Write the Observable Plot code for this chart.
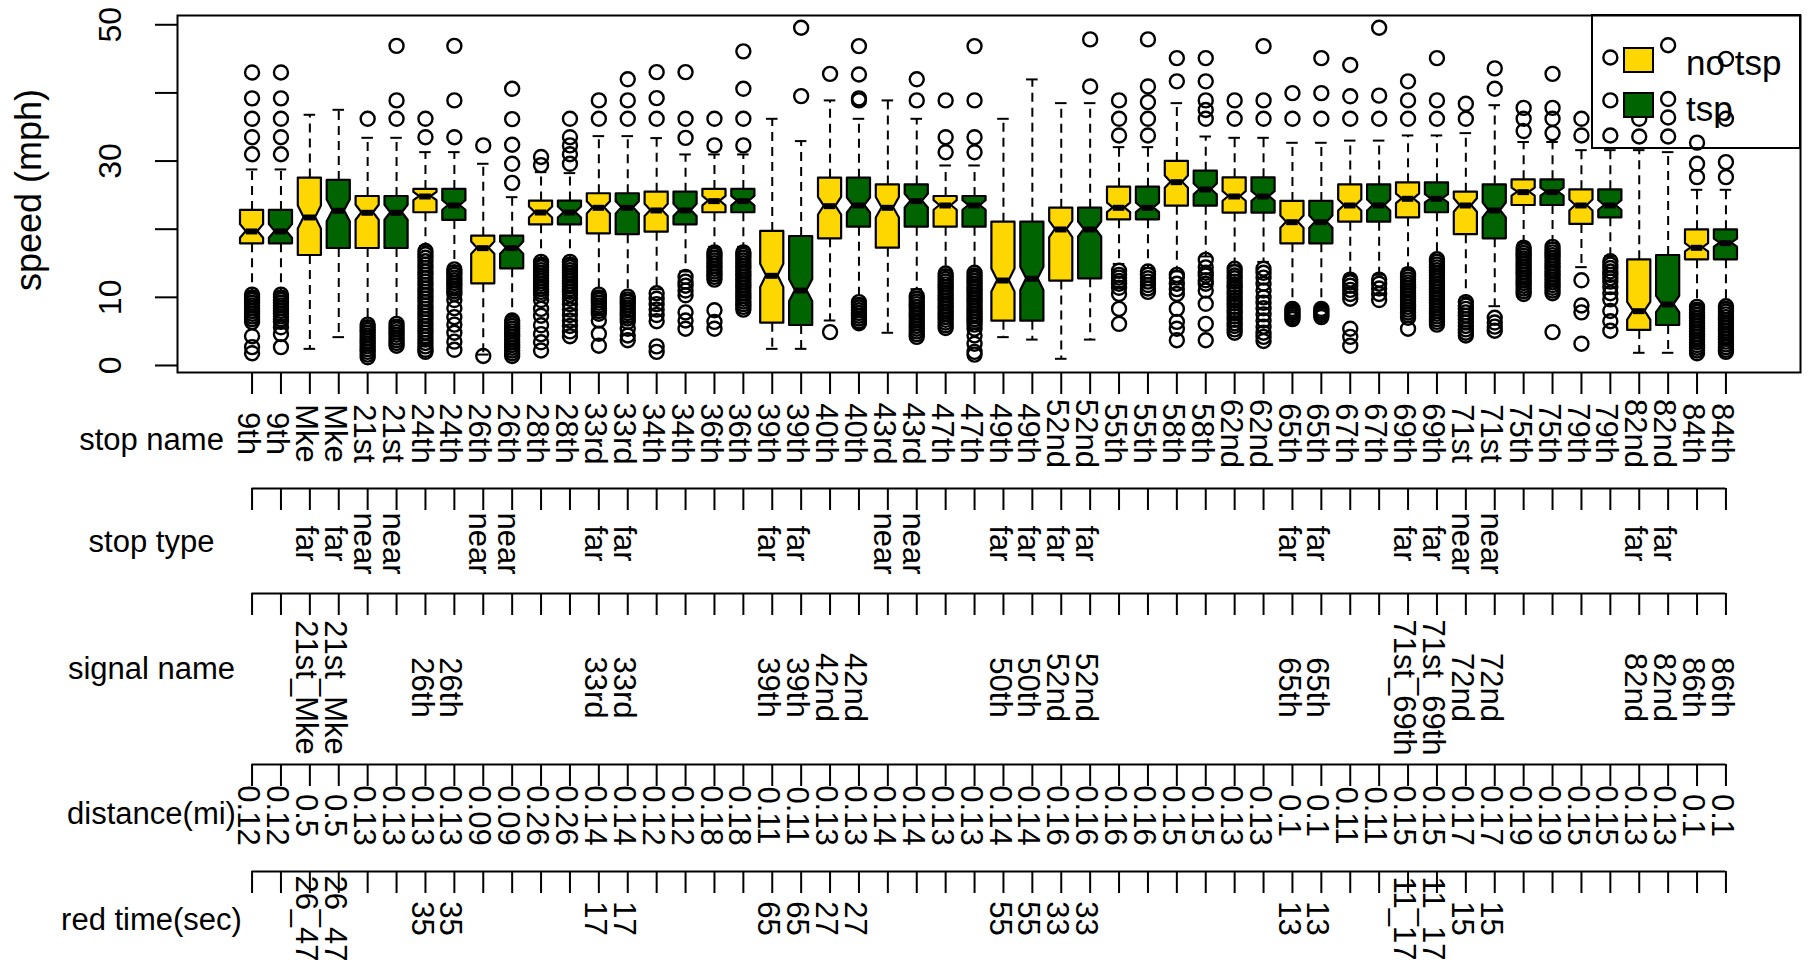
<!DOCTYPE html>
<html><head><meta charset="utf-8">
<script src="https://cdn.jsdelivr.net/npm/d3@7"></script>
<script src="https://cdn.jsdelivr.net/npm/@observablehq/plot@0.6"></script>
<style>
body{margin:0;background:#fff;}
#chart{position:relative;width:1809px;height:964px;overflow:hidden;background:#fff;font-family:"Liberation Sans",Arial,Helvetica,sans-serif;}
#chart svg{position:absolute;left:0;overflow:visible;}
</style></head><body><div id="chart"></div>
<script>
// ---------- data ----------
const stops = ["9th","Mke","21st","24th","26th","28th","33rd","34th","36th","39th","40th","43rd","47th","49th","52nd","55th","58th","62nd","65th","67th","69th","71st","75th","79th","82nd","84th"];
const groups = ["no tsp","tsp"];
const groupColors = ["#FFD700","#006400"];
const stopType = ["","far","near","","near","","far","","","far","","near","","far","far","","","","far","","far","near","","","far",""];
const signalName = ["","21st_Mke","","26th","","","33rd","","","39th","42nd","","","50th","52nd","","","","65th","","71st_69th","72nd","","","82nd","86th"];
const distance = ["0.12","0.5","0.13","0.13","0.09","0.26","0.14","0.12","0.18","0.11","0.13","0.14","0.13","0.14","0.16","0.16","0.15","0.13","0.1","0.11","0.15","0.17","0.19","0.15","0.13","0.1"];
const redTime = ["","26_47","","35","","","17","","","65","27","","","55","33","","","","13","","11_17","15","","","",""];
const rowTitles = ["stop name","stop type","signal name","distance(mi)","red time(sec)"];

const q1 = [17.86,17.86,16.14,17.17,17.17,17.17,22.41,21.28,11.99,14.19,20.64,20.64,19.32,19.2,19.57,20.64,22.41,22.41,6.21,5.87,18.59,20.3,17.22,20.3,20.3,20.3,6.5,6.5,12.38,12.72,21.38,21.38,23.38,23.38,22.36,22.36,17.86,17.86,21.03,21.03,21.67,22.41,19.2,18.59,23.48,23.48,20.7,21.67,5.14,5.87,15.5,15.5];
const median = [19.67,19.67,21.72,22.7,22.41,22.41,24.8,23.48,17.22,17.22,22.45,22.45,23.14,23.14,22.75,22.75,24.12,24.12,13.16,11.0,23.38,23.48,23.14,24.12,23.48,23.48,12.47,12.72,19.96,19.96,23.14,23.14,26.9,25.83,24.8,24.8,21.03,21.03,23.48,23.48,24.46,24.46,23.48,22.75,25.44,25.44,23.48,23.48,7.97,8.95,17.27,17.95];
const q3 = [22.75,22.75,27.5,27.15,24.8,24.8,25.83,25.83,18.98,18.98,24.12,24.12,25.2,25.2,25.44,25.44,25.83,25.83,19.67,18.93,27.49,27.49,26.5,26.5,24.8,24.8,21.03,21.03,23.09,23.09,26.17,26.17,29.94,28.52,27.54,27.54,24.07,24.07,26.5,26.5,26.81,26.81,25.44,26.5,27.25,27.25,25.78,25.78,15.5,16.14,19.91,19.91];
const whiskerLo = [10.8,10.8,2.44,4.16,6.5,6.5,17.5,14.6,1.6,7.2,15.6,15.6,10.8,10.4,11.2,13.8,17.4,17.4,2.44,2.44,6.6,9.8,4.8,11.2,14.0,14.0,4.16,3.8,0.98,3.8,14.9,14.3,13.8,16.0,14.7,15.2,8.7,8.7,13.3,13.3,14.2,16.2,10.0,8.7,18.0,18.0,14.43,16.0,1.86,1.86,9.0,9.2];
const whiskerHi = [28.77,28.77,36.79,37.52,33.41,33.41,31.31,31.31,29.6,24.7,28.37,28.23,33.66,33.66,33.37,30.97,30.97,30.97,36.2,32.93,38.9,36.2,38.9,36.2,29.35,29.35,36.2,41.98,38.5,38.5,32.04,32.04,38.5,33.6,33.41,33.41,32.68,32.68,33.0,33.0,33.76,33.76,34.1,38.2,32.8,32.8,31.6,31.6,31.6,31.31,25.78,25.78];
const notchHalf = [1.0,1.0,1.7,1.6,1.1,1.1,0.6,0.7,0.9,0.9,0.8,0.8,0.9,0.9,0.9,0.9,0.7,0.7,1.7,1.6,1.3,1.1,1.5,1.0,0.7,0.7,1.7,1.7,1.2,1.1,0.7,0.7,0.9,0.8,0.7,0.7,0.9,0.9,0.8,0.8,0.7,0.6,1.0,1.1,0.6,0.6,0.8,0.7,1.3,1.2,0.6,0.6];
const outliers = [
 [43.0,39.2,36.2,33.5,31.0,10.4,10.0,9.6,9.2,8.8,8.4,8.0,7.6,7.2,6.8,6.4,4.3,2.7,1.8],
 [43.0,39.2,36.2,33.5,31.0,10.4,10.0,9.6,9.2,8.8,8.4,8.0,7.6,7.2,6.8,6.4,5.6,4.6,2.7],
 [],
 [],
 [36.2,6.0,5.6,5.2,4.8,4.4,4.0,3.6,3.2,2.8,2.4,2.0,1.6,1.2],
 [46.9,38.9,36.2,6.1,5.7,5.3,4.9,4.5,4.1,3.7,3.3,2.9],
 [36.2,33.5,16.8,16.3,15.8,15.3,14.8,14.3,13.8,13.3,12.8,12.3,11.8,11.3,10.8,10.3,9.8,9.3,8.8,8.3,7.8,7.3,6.8,6.3,5.8,5.3,4.8,4.3,3.8,3.3,2.8,2.3,2.0],
 [46.9,38.9,33.5,14.1,13.7,13.3,12.9,12.5,12.1,11.7,11.3,10.9,10.5,9.6,8.4,7.1,6.0,4.8,3.5,2.3],
 [32.3,1.4],
 [40.6,36.15,32.4,29.6,26.8,6.6,6.2,5.8,5.4,5.0,4.6,4.2,3.8,3.4,3.0,2.6,2.2,1.8,1.4],
 [30.6,29.4,15.2,14.8,14.4,14.0,13.6,13.2,12.8,12.4,12.0,11.6,11.2,10.8,10.4,9.6,8.3,7.3,5.9,4.6,3.4,2.2],
 [36.2,33.5,32.3,31.0,29.6,15.2,14.8,14.4,14.0,13.6,13.2,12.8,12.4,12.0,11.6,11.2,10.8,10.4,9.8,9.0,8.2,7.4,6.6,5.8,5.0,4.3],
 [38.9,36.2,10.4,10.0,9.6,9.2,8.8,8.4,8.0,7.6,6.6,4.65,2.9],
 [42.0,38.9,36.2,10.1,9.7,9.3,8.9,8.5,8.1,7.7,7.3,6.9,6.4,5.4,4.4,3.7],
 [43.05,39.24,36.2,10.6,9.8,9.0,8.2,7.4,6.5,2.8,2.0],
 [43.05,36.2,33.4,13.0,12.3,11.7,11.0,10.3,7.8,6.6,5.4],
 [36.2,32.3,16.6,16.2,15.8,15.4,15.0,14.6,14.2,13.8,13.4,13.0,12.6,8.1,6.4,5.4],
 [46.1,40.6,36.2,32.3,16.6,16.2,15.8,15.4,15.0,14.6,14.2,13.8,13.4,13.0,12.6,12.2,11.8,11.4,11.0,10.6,10.2,9.8,9.4,9.0,8.6,8.2],
 [],
 [49.56,39.53],
 [42.8,4.9],
 [46.87,42.7,39.2,38.9,9.3,8.9,8.5,8.1,7.7,7.3,6.9,6.5,6.2],
 [],
 [42.0,38.9,10.2,9.8,9.4,9.0,8.6,8.2,7.8,7.4,7.0,6.6,6.2,5.8,5.4,5.0,4.6,4.2],
 [38.9,33.5,31.3,13.5,13.1,12.7,12.3,11.9,11.5,11.1,10.7,10.3,9.9,9.5,9.1,8.7,8.3,7.9,7.5,7.1,6.7,6.3,5.9,5.5],
 [46.87,38.9,33.5,31.3,13.6,13.2,12.8,12.4,12.0,11.6,11.2,10.8,10.4,10.0,9.6,9.2,8.8,8.4,8.0,7.6,7.2,6.8,6.4,6.0,5.4,4.4,3.2,2.0,1.6],
 [],
 [],
 [],
 [47.85,40.95],
 [38.9,36.2,33.76,13.9,13.3,12.9,12.4,12.0,11.4,10.5,8.3,6.1],
 [47.85,40.95,38.65,36.2,33.76,13.8,13.3,12.8,12.3,11.8,11.3,10.8],
 [45.1,41.7,13.3,12.9,12.0,11.2,10.5,8.3,6.4,5.4,3.7],
 [45.1,41.7,38.9,37.5,36.2,15.5,14.4,13.6,13.2,12.5,12.0,11.0,9.05,6.1,3.7],
 [38.9,36.2,14.2,13.7,13.2,12.8,12.3,11.8,11.4,10.9,10.5,10.0,9.5,9.1,8.6,8.1,7.7,7.2,6.7,6.2,5.8,5.3,4.8],
 [46.87,38.9,36.2,14.2,13.6,12.9,12.0,11.0,10.0,9.2,8.4,7.5,6.6,5.7,4.8,4.2,3.6],
 [39.97,36.2,8.3,8.0,7.7,7.4,7.1,6.8],
 [45.1,39.97,36.2,8.3,8.0,7.7,7.4,7.1],
 [44.1,39.5,36.2,12.6,12.2,11.7,11.1,10.5,9.8,5.4,4.2,2.9],
 [49.56,39.6,36.2,12.6,12.0,11.3,10.5,9.6],
 [41.7,38.9,36.2,13.4,13.0,12.6,12.2,11.8,11.4,11.0,10.6,10.2,9.8,9.4,9.0,8.6,8.2,7.8,7.4,7.0,5.4],
 [45.1,38.9,36.2,15.6,15.2,14.8,14.4,14.0,13.6,13.2,12.8,12.4,12.0,11.6,11.2,10.8,10.4,10.0,9.6,9.2,8.8,8.4,8.0,7.6,7.2,6.8,6.4,6.0],
 [38.4,36.2,9.3,8.8,8.3,7.8,7.3,6.8,6.3,5.8,5.3,4.8,4.4],
 [43.6,40.6,7.0,6.3,5.7,5.1],
 [37.8,36.2,34.4,17.3,16.9,16.5,16.1,15.7,15.3,14.9,14.5,14.1,13.7,13.3,12.9,12.5,12.1,11.7,11.3,10.9,10.5],
 [42.8,37.8,36.2,34.1,17.4,17.0,16.6,16.2,15.8,15.4,15.0,14.6,14.2,13.8,13.4,13.0,12.6,12.2,11.8,11.4,11.0,10.6,4.9],
 [36.2,33.76,12.5,8.8,7.8,3.2],
 [45.2,38.9,33.75,15.3,14.8,14.3,13.8,13.3,12.8,12.3,11.5,10.6,9.7,8.0,6.5,5.1],
 [36.2,33.6],
 [47.0,39.1,36.4,33.6],
 [32.7,29.6,27.64,8.6,8.2,7.8,7.4,7.0,6.6,6.2,5.8,5.4,5.0,4.6,4.2,3.8,3.4,3.0,2.6,2.2,1.8],
 [45.0,36.2,29.84,27.64,8.7,8.3,7.9,7.5,7.1,6.7,6.3,5.9,5.5,5.1,4.7,4.3,3.9,3.5,3.1,2.7,2.3,2.0]
];
const yTicks = [0,10,20,30,40,50];
const yTickLabels = [0,10,30,50];

// ---------- build tables ----------
const boxes = [];
stops.forEach((s, i) => groups.forEach((g, j) => {
  const k = i * 2 + j;
  boxes.push({pos: k + 1, stop: s, group: g, type: stopType[i], signal: signalName[i],
    dist: distance[i], red: redTime[i], q1: q1[k], med: median[k], q3: q3[k],
    lo: whiskerLo[k], hi: whiskerHi[k], notch: notchHalf[k]});
}));
const outs = boxes.flatMap((b, k) => outliers[k].map(v => ({pos: b.pos, v})));

// R boxplot geometry
const halfBox = 0.4, notchFrac = 0.5, staple = 0.2;
const notchPts = boxes.flatMap(b => [
  {v: b.q1, w: 1}, {v: b.med - b.notch, w: 1}, {v: b.med, w: notchFrac},
  {v: b.med + b.notch, w: 1}, {v: b.q3, w: 1}
].map(p => ({id: b.pos, group: b.group, v: p.v, x1: b.pos - halfBox * p.w, x2: b.pos + halfBox * p.w})));

const W = 1809;
const FONT = '"Liberation Sans", Arial, Helvetica, sans-serif';
const LBL = 31;
const xDomain = [0.5 - 52 * 0.04, 52.5 + 52 * 0.04];
const mainLeft = 177, mainRight = 9;
const xScale = d3.scaleLinear(xDomain, [mainLeft, W - mainRight]);
const firstPos = boxes[0].pos, lastPos = boxes[boxes.length - 1].pos;
const titleX = 151;
const txt = {fill: "black", textAnchor: "middle", lineAnchor: "middle"};

const chart = document.getElementById("chart");

const main = Plot.plot({
  width: W, height: 488,
  marginLeft: mainLeft, marginRight: mainRight, marginTop: 15, marginBottom: 116,
  style: {fontFamily: FONT, overflow: "visible", background: "transparent", color: "black"},
  x: {type: "linear", domain: xDomain},
  y: {type: "linear", domain: [-1.03, 51.36]},
  color: {domain: groups, range: groupColors},
  marks: [
    Plot.ruleX(boxes, {x: "pos", y1: "q3", y2: "hi", stroke: "black", strokeWidth: 2, strokeDasharray: "9,6"}),
    Plot.ruleX(boxes, {x: "pos", y1: "q1", y2: "lo", stroke: "black", strokeWidth: 2, strokeDasharray: "9,6"}),
    Plot.ruleY(boxes, {y: "hi", x1: d => d.pos - staple, x2: d => d.pos + staple, stroke: "black", strokeWidth: 2}),
    Plot.ruleY(boxes, {y: "lo", x1: d => d.pos - staple, x2: d => d.pos + staple, stroke: "black", strokeWidth: 2}),
    Plot.areaX(notchPts, {y: "v", x1: "x1", x2: "x2", z: "id", fill: "group", stroke: "black", strokeWidth: 2.2, curve: "linear"}),
    Plot.ruleY(boxes, {y: "med", x1: d => d.pos - halfBox * notchFrac, x2: d => d.pos + halfBox * notchFrac, stroke: "black", strokeWidth: 6}),
    Plot.dot(outs, {x: "pos", y: "v", r: 7, stroke: "black", strokeWidth: 2.4, fill: "none"}),
    Plot.frame({stroke: "black", strokeWidth: 2}),
    Plot.axisY(yTicks, {tickSize: 22, tickFormat: () => "", label: null, strokeWidth: 2}),
    Plot.axisX(boxes.map(b => b.pos), {tickSize: 22, tickFormat: () => "", label: null, strokeWidth: 2}),
    Plot.text(yTickLabels, {...txt, y: d => d, text: d => String(d), frameAnchor: "left", dx: -67, rotate: -90, fontSize: 32}),
    Plot.text(["speed (mph)"], {...txt, text: d => d, frameAnchor: "left", dx: -148, dy: -4, rotate: -90, fontSize: 36}),
    Plot.text(boxes, {...txt, x: "pos", text: "stop", frameAnchor: "bottom", dy: 61, dx: -4, rotate: 90, fontSize: LBL}),
    Plot.text([rowTitles[0]], {...txt, text: d => d, frameAnchor: "bottom-left", dx: titleX - mainLeft, dy: 68, fontSize: LBL})
  ]
});
main.style.top = "0px";
chart.appendChild(main);

// lower table rows: axis line + ticks + rotated labels + row title
const rows = [
  {field: "type",   title: rowTitles[1], lineY: 488, nextY: 593, labelY: 543, titleY: 542},
  {field: "signal", title: rowTitles[2], lineY: 593, nextY: 764, labelY: 687, titleY: 669},
  {field: "dist",   title: rowTitles[3], lineY: 764, nextY: 871, labelY: 815, titleY: 814},
  {field: "red",    title: rowTitles[4], lineY: 871, nextY: 964, labelY: 918, titleY: 920}
];
const tickLen = 22, pad = 2;
const rowLeft = xScale(firstPos), rowRight = W - xScale(lastPos);
for (const r of rows) {
  const top = r.lineY - pad;
  const height = r.nextY - top;
  const tickEnd = r.lineY + tickLen;
  const svg = Plot.plot({
    width: W, height,
    marginTop: pad, marginBottom: height - pad - tickLen, marginLeft: rowLeft, marginRight: rowRight,
    style: {fontFamily: FONT, overflow: "visible", background: "transparent", color: "black"},
    x: {type: "linear", domain: [firstPos, lastPos], axis: null},
    y: {type: "linear", domain: [0, 1], reverse: true, axis: null},
    marks: [
      Plot.ruleY([0], {x1: () => firstPos, x2: () => lastPos, stroke: "black", strokeWidth: 2}),
      Plot.tickX(boxes, {x: "pos", stroke: "black", strokeWidth: 2}),
      Plot.text(boxes, {...txt, x: "pos", text: r.field, frameAnchor: "bottom", dy: r.labelY - tickEnd, dx: -4, rotate: 90, fontSize: LBL}),
      Plot.text([r.title], {...txt, text: d => d, frameAnchor: "bottom-left", dx: titleX - rowLeft, dy: r.titleY - tickEnd, fontSize: LBL})
    ]
  });
  svg.style.top = top + "px";
  chart.appendChild(svg);
}

// legend (inside plot, top-right, no background)
const leg = d3.create("svg").attr("width", 210).attr("height", 136)
  .style("left", "1591px").style("top", "14px").style("font-family", FONT);
leg.append("rect").attr("x", 1).attr("y", 1).attr("width", 208).attr("height", 133)
  .attr("fill", "none").attr("stroke", "black").attr("stroke-width", 2);
groups.forEach((g, i) => {
  leg.append("rect").attr("x", 33).attr("y", 34 + i * 45).attr("width", 29).attr("height", 24)
    .attr("fill", groupColors[i]).attr("stroke", "black").attr("stroke-width", 2);
  leg.append("text").attr("x", 95).attr("y", 61 + i * 46).attr("font-size", 35).attr("fill", "black").text(g);
});
chart.appendChild(leg.node());
</script></body></html>
